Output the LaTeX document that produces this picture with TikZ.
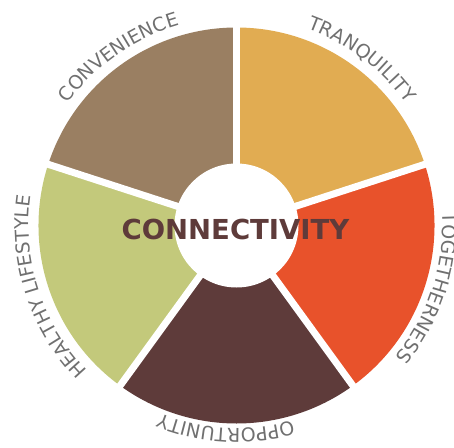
\documentclass[tikz,border=0pt]{standalone}
\usepackage{fontspec}
\usetikzlibrary{decorations.text}
\newfontfamily\labelfont{DejaVu Sans}
\newfontfamily\hubfont{DejaVu Sans}
\definecolor{tranq}{HTML}{E1AC52}
\definecolor{toge}{HTML}{E8522B}
\definecolor{oppo}{HTML}{5E3B3A}
\definecolor{heal}{HTML}{C3C97B}
\definecolor{conv}{HTML}{9A7F62}
\definecolor{labelgray}{HTML}{707070}
\newcommand\labelstyle{\labelfont\fontsize{19}{23}\selectfont\color{labelgray}}
\begin{document}
\begin{tikzpicture}[x=1pt,y=1pt]
  % Origin at the hub, radii in px of the 454x447 source.
  \useasboundingbox (-236.5,-221.5) rectangle (217.5,225.5);
  \foreach \a/\col in {18/tranq,-54/toge,-126/oppo,162/heal,90/conv}{\fill[\col] (0,0) -- (\a:198) arc[start angle=\a,delta angle=72,radius=198] -- cycle;}
  \foreach \a in {90,18,-54,-126,162}{\draw[white,line width=7pt] (0,0) -- (\a:206);}
  \fill[white] (0,0) circle[radius=62];
  \node[font=\hubfont\bfseries\fontsize{27.5}{30}\selectfont,text=oppo,inner sep=0pt] (hub) at (-1,-3.5) {CONNECTIVITY};
  \foreach \a/\r/\lab in {89/209/TRANQUILITY,18/206/TOGETHERNESS,-57/203/OPPORTUNITY,234/208/HEALTHY LIFESTYLE,161/208/CONVENIENCE}{
    \path[decorate,decoration={text along path,text align=center,text/.expanded={|\noexpand\labelstyle|\lab}}] (\a:\r) arc[start angle=\a,delta angle=-72,radius=\r];}
\end{tikzpicture}
\end{document}
